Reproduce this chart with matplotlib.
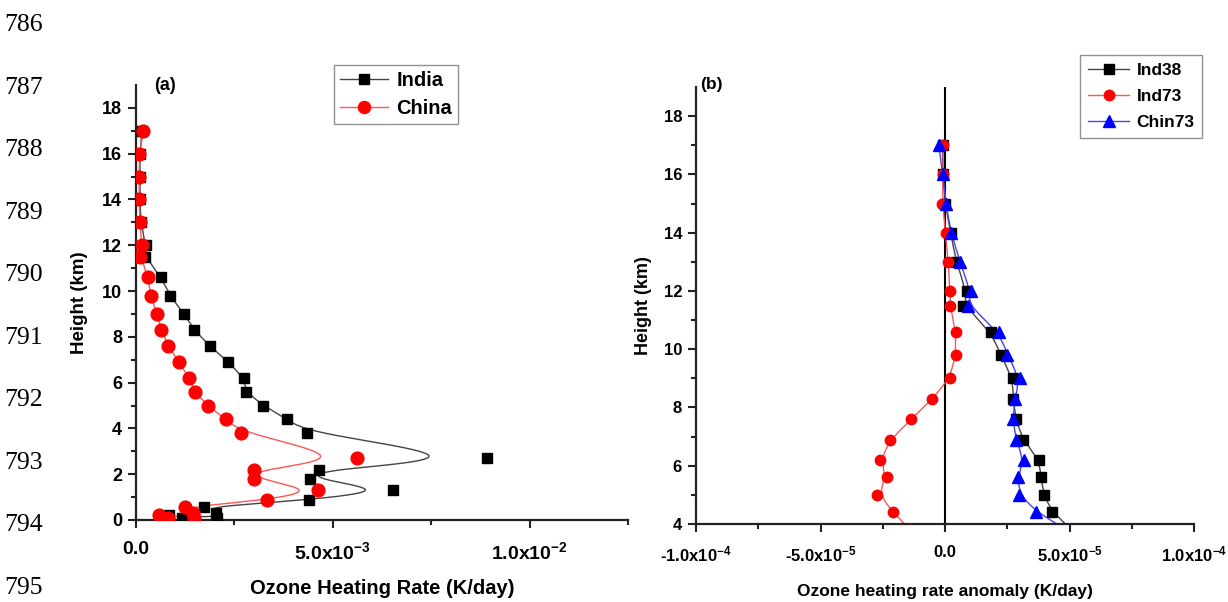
import numpy as np
import matplotlib
matplotlib.use('Agg')
import matplotlib.pyplot as plt
from matplotlib.ticker import FixedLocator, FixedFormatter

plt.rcParams['font.family'] = ['Liberation Sans', 'DejaVu Sans']
plt.rcParams['font.weight'] = 'bold'
plt.rcParams['mathtext.fontset'] = 'custom'
plt.rcParams['mathtext.rm'] = 'Liberation Sans:bold'
plt.rcParams['mathtext.bf'] = 'Liberation Sans:bold'
plt.rcParams['mathtext.default'] = 'bf'

# ---------------- data ----------------
heights = [17.0, 16.0, 15.0, 14.0, 13.0, 12.0, 11.5, 10.6, 9.8, 9.0, 8.3, 7.6, 6.9,
           6.2, 5.6, 5.0, 4.4, 3.8, 2.7, 2.2, 1.8, 1.3, 0.87, 0.58, 0.32, 0.07, 0.22, 0.1]

india = [0.00015, 0.0001, 0.0001, 0.0001, 0.00012, 0.00025, 0.00023, 0.00064, 0.00086,
         0.00122, 0.00148, 0.00187, 0.00235, 0.00274, 0.00279, 0.00323, 0.00384, 0.00434,
         0.00892, 0.00465, 0.00442, 0.00654, 0.00439, 0.00172, 0.00203, 0.00206, 0.00084,
         0.00118]
china = [0.00019, 0.00008, 0.00008, 0.00008, 0.0001, 0.00015, 0.00011, 0.00031, 0.00037,
         0.00053, 0.00064, 0.00082, 0.00109, 0.00135, 0.00149, 0.00182, 0.00228, 0.00268,
         0.00561, 0.00301, 0.00301, 0.00463, 0.00332, 0.00125, 0.00146, 0.00148, 0.00058,
         0.00082]

ind38 = [-1e-6, -1e-6, 0.0, 2.3e-6, 4.4e-6, 8.7e-6, 7.3e-6, 1.86e-5, 2.23e-5, 2.72e-5,
         2.74e-5, 2.84e-5, 3.12e-5, 3.79e-5, 3.85e-5, 3.97e-5, 4.28e-5, 5.1e-5]
ind73 = [-7e-7, -9e-7, -1.1e-6, 3e-7, 1.3e-6, 2e-6, 2e-6, 4.4e-6, 4.3e-6, 2e-6, -5.1e-6,
         -1.35e-5, -2.2e-5, -2.6e-5, -2.34e-5, -2.74e-5, -2.07e-5, -1.4e-5]
chin73 = [-2.5e-6, -9e-7, 3e-7, 2.4e-6, 6e-6, 1.03e-5, 9.1e-6, 2.18e-5, 2.5e-5, 3.01e-5,
          2.81e-5, 2.72e-5, 2.85e-5, 3.17e-5, 2.92e-5, 2.98e-5, 3.65e-5, 4.9e-5]

left_xticks = [0.0, 0.005, 0.01]
left_xticklabels = ['0.0', '5.0x10$^{-3}$', '1.0x10$^{-2}$']
right_xticks = [-1e-4, -5e-5, 0.0, 5e-5, 1e-4]
right_xticklabels = ['-1.0x10$^{-4}$', '-5.0x10$^{-5}$', '0.0', '5.0x10$^{-5}$', '1.0x10$^{-4}$']
line_numbers = ['786', '787', '788', '789', '790', '791', '792', '793', '794', '795']


def bspline(xs, ys, k=3, num=600):
    """Clamped uniform cubic B-spline using the data points as control points."""
    P = np.column_stack([xs, ys]).astype(float)
    n = len(P)
    knots = np.concatenate([np.zeros(k), np.linspace(0, 1, n - k + 1), np.ones(k)])
    t = np.linspace(0, 1, num)
    m = len(knots) - 1
    N = np.zeros((num, m))
    for i in range(m):
        N[:, i] = ((t >= knots[i]) & (t < knots[i + 1])).astype(float)
    N[t >= 1.0, :] = 0.0
    N[t >= 1.0, n - 1] = 1.0
    for d in range(1, k + 1):
        Nn = np.zeros((num, m - d))
        for i in range(m - d):
            a = knots[i + d] - knots[i]
            b = knots[i + d + 1] - knots[i + 1]
            term = np.zeros(num)
            if a > 0:
                term += (t - knots[i]) / a * N[:, i]
            if b > 0:
                term += (knots[i + d + 1] - t) / b * N[:, i + 1]
            Nn[:, i] = term
        N = Nn
    C = N @ P
    return C[:, 0], C[:, 1]


W, H = 1228, 602
fig = plt.figure(figsize=(W / 100, H / 100), dpi=100)
fig.patch.set_facecolor('white')

# line numbers from the manuscript
ys_ln = np.linspace(25, 588, len(line_numbers))
for s, yy in zip(line_numbers, ys_ln):
    fig.text(4 / W, 1 - yy / H, s, family='Liberation Serif', fontweight='normal',
             fontsize=18.5, ha='left', va='center', color='black')


def style_axes(ax, xls, yls):
    for sp in ['top', 'right']:
        ax.spines[sp].set_visible(False)
    for sp in ['left', 'bottom']:
        ax.spines[sp].set_linewidth(1.6)
        ax.spines[sp].set_color('#222222')
    ax.tick_params(which='major', direction='out', length=6, width=1.5, color='#222222')
    ax.tick_params(which='minor', direction='out', length=3.5, width=1.5, color='#222222')
    ax.tick_params(axis='x', which='major', pad=9, labelsize=xls)
    ax.tick_params(axis='y', which='major', pad=4, labelsize=yls)
    for lab in ax.get_xticklabels() + ax.get_yticklabels():
        lab.set_fontweight('bold')


# ---------------- panel (a) ----------------
axa = fig.add_axes([136 / W, 1 - 520 / H, (628 - 136) / W, (520 - 85) / H])
for vals, col, lc, mk, ms, lab in [(india, 'black', '#444444', 's', 7.8, 'India'),
                                     (china, 'red', '#ff5555', 'o', 9.2, 'China')]:
    cx, cy = bspline(vals, heights)
    axa.plot(cx, cy, color=lc, lw=1.0, zorder=2)
    axa.plot(vals, heights, linestyle='none', marker=mk, ms=ms, color=col, zorder=3)
    axa.plot([], [], color=lc, lw=1.0, marker=mk, ms=ms - 0.5, mfc=col, mec=col, label=lab)
axa.set_xlim(0, 0.0125)
axa.set_ylim(0, 19)
axa.xaxis.set_major_locator(FixedLocator(left_xticks))
axa.xaxis.set_major_formatter(FixedFormatter(left_xticklabels))
axa.xaxis.set_minor_locator(FixedLocator([0.0025, 0.0075, 0.0125]))
axa.yaxis.set_major_locator(FixedLocator(list(range(0, 19, 2))))
axa.yaxis.set_minor_locator(FixedLocator(list(range(1, 19, 2))))
style_axes(axa, 14, 13)
axa.set_xlabel('Ozone Heating Rate (K/day)', fontsize=14.5, fontweight='bold', labelpad=12)
axa.set_ylabel('Height (km)', fontsize=13.5, fontweight='bold', labelpad=10)
axa.text(154 / W, 1 - 85 / H, '(a)', transform=fig.transFigure, fontsize=13,
         fontweight='bold', ha='left', va='center')
leg_a = axa.legend(loc='upper left', bbox_to_anchor=(334 / W, 1 - 65 / H),
                   bbox_transform=fig.transFigure, fontsize=14.5, frameon=True,
                   fancybox=False, edgecolor='#777777', handlelength=2.4,
                   borderpad=0.3, labelspacing=0.45, handletextpad=0.4, borderaxespad=0)
leg_a.get_frame().set_linewidth(1.0)

# ---------------- panel (b) ----------------
axb = fig.add_axes([696 / W, 1 - 524 / H, (1194 - 696) / W, (524 - 87) / H])
hr = heights[:len(ind38)]
axb.axvline(0.0, color='black', lw=1.5, zorder=1)
for vals, col, lc, mk, ms, lab in [(ind38, 'black', '#444444', 's', 6.5, 'Ind38'),
                                     (ind73, 'red', '#ff5555', 'o', 7.5, 'Ind73'),
                                     (chin73, 'blue', '#4444ff', '^', 8, 'Chin73')]:
    cx, cy = bspline(vals, hr)
    axb.plot(cx, cy, color=lc, lw=1.0, zorder=2)
    axb.plot(vals, hr, linestyle='none', marker=mk, ms=ms, color=col, zorder=3)
    axb.plot([], [], color=lc, lw=1.0, marker=mk, ms=ms, mfc=col, mec=col, label=lab)
axb.set_xlim(-1e-4, 1e-4)
axb.set_ylim(4, 19)
axb.xaxis.set_major_locator(FixedLocator(right_xticks))
axb.xaxis.set_major_formatter(FixedFormatter(right_xticklabels))
axb.xaxis.set_minor_locator(FixedLocator([-7.5e-5, -2.5e-5, 2.5e-5, 7.5e-5]))
axb.yaxis.set_major_locator(FixedLocator(list(range(4, 19, 2))))
axb.yaxis.set_minor_locator(FixedLocator(list(range(5, 19, 2))))
style_axes(axb, 12, 12)
axb.set_xlabel('Ozone heating rate anomaly (K/day)', fontsize=12.5, fontweight='bold',
               labelpad=14)
axb.set_ylabel('Height (km)', fontsize=13, fontweight='bold', labelpad=8)
axb.text(700 / W, 1 - 85 / H, '(b)', transform=fig.transFigure, fontsize=12.5,
         fontweight='bold', ha='left', va='center')
leg_b = axb.legend(loc='upper left', bbox_to_anchor=(1080 / W, 1 - 55 / H),
                   bbox_transform=fig.transFigure, fontsize=12.5, frameon=True,
                   fancybox=False, edgecolor='#777777', handlelength=2.4,
                   borderpad=0.45, labelspacing=0.62, handletextpad=0.4, borderaxespad=0)
leg_b.get_frame().set_linewidth(1.0)

fig.savefig('out.png', dpi=100)
